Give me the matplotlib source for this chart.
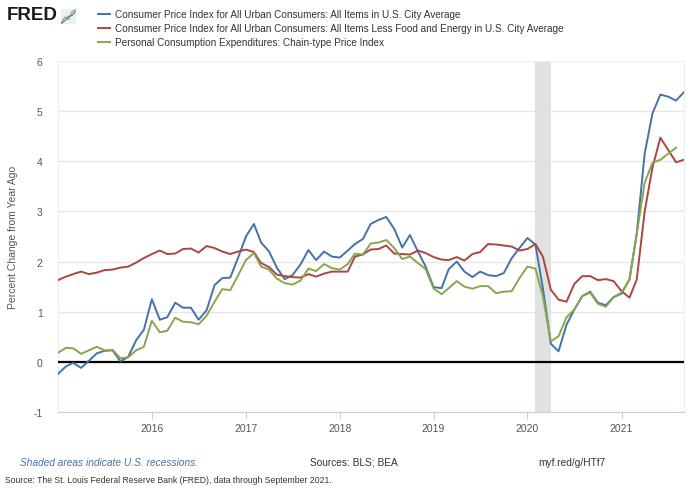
import matplotlib
matplotlib.use("Agg")
import matplotlib.pyplot as plt
import pandas as pd

# monthly year-over-year % change, Jan 2015 onwards
cpi = [-0.24, -0.09, -0.02, -0.12, 0.02, 0.17, 0.22, 0.23, 0.01, 0.10, 0.43, 0.64,
       1.25, 0.84, 0.89, 1.18, 1.08, 1.08, 0.84, 1.03, 1.53, 1.67, 1.68, 2.07,
       2.50, 2.75, 2.38, 2.20, 1.88, 1.65, 1.73, 1.94, 2.23, 2.03, 2.20, 2.10,
       2.08, 2.22, 2.35, 2.45, 2.75, 2.83, 2.89, 2.65, 2.28, 2.53, 2.20, 1.90,
       1.49, 1.47, 1.85, 2.00, 1.80, 1.69, 1.80, 1.73, 1.71, 1.77, 2.07, 2.27,
       2.47, 2.34, 1.47, 0.36, 0.21, 0.74, 1.04, 1.31, 1.40, 1.18, 1.13, 1.29,
       1.36, 1.65, 2.55, 4.15, 4.95, 5.33, 5.29, 5.21, 5.38]
core = [1.63, 1.70, 1.75, 1.80, 1.75, 1.78, 1.83, 1.84, 1.88, 1.90, 1.98, 2.07,
        2.15, 2.22, 2.15, 2.16, 2.25, 2.26, 2.18, 2.31, 2.27, 2.20, 2.15, 2.20,
        2.24, 2.19, 1.97, 1.89, 1.74, 1.71, 1.69, 1.68, 1.75, 1.70, 1.76, 1.80,
        1.80, 1.80, 2.10, 2.14, 2.24, 2.25, 2.32, 2.16, 2.15, 2.14, 2.22, 2.17,
        2.09, 2.04, 2.03, 2.09, 2.02, 2.15, 2.19, 2.35, 2.34, 2.32, 2.30, 2.22,
        2.25, 2.35, 2.10, 1.44, 1.24, 1.20, 1.55, 1.71, 1.71, 1.63, 1.65, 1.61,
        1.41, 1.28, 1.64, 3.00, 3.87, 4.47, 4.23, 3.98, 4.03]
pce = [0.18, 0.28, 0.27, 0.16, 0.23, 0.30, 0.23, 0.24, 0.07, 0.09, 0.23, 0.30,
       0.82, 0.59, 0.62, 0.88, 0.80, 0.79, 0.75, 0.92, 1.20, 1.45, 1.43, 1.72,
       2.03, 2.17, 1.90, 1.84, 1.66, 1.57, 1.54, 1.62, 1.86, 1.81, 1.95, 1.87,
       1.84, 1.95, 2.16, 2.14, 2.36, 2.38, 2.43, 2.27, 2.05, 2.10, 1.97, 1.85,
       1.46, 1.35, 1.47, 1.61, 1.50, 1.46, 1.51, 1.51, 1.37, 1.40, 1.41, 1.67,
       1.90, 1.86, 1.31, 0.41, 0.51, 0.89, 1.04, 1.31, 1.38, 1.16, 1.10, 1.29,
       1.38, 1.64, 2.55, 3.57, 3.97, 4.03, 4.15, 4.27]

names = ["Consumer Price Index for All Urban Consumers: All Items in U.S. City Average",
         "Consumer Price Index for All Urban Consumers: All Items Less Food and Energy in U.S. City Average",
         "Personal Consumption Expenditures: Chain-type Price Index"]
colors = ["#4572a7", "#aa4643", "#89a54e"]
recession = ("2020-02-01", "2020-04-01")
years = [2016, 2017, 2018, 2019, 2020, 2021]
yticks = [-1, 0, 1, 2, 3, 4, 5, 6]

dates_cpi = pd.date_range("2015-01-01", periods=len(cpi), freq="MS")
dates_pce = pd.date_range("2015-01-01", periods=len(pce), freq="MS")

plt.rcParams['font.family'] = ['Liberation Sans', 'DejaVu Sans']

fig = plt.figure(figsize=(7, 4.89), dpi=100)
ax = fig.add_axes([58/700, 1 - 413/489, 626/700, 351/489])

ax.axvspan(pd.Timestamp(recession[0]), pd.Timestamp(recession[1]), color="#e1e1e1", lw=0, zorder=1)
for v in yticks:
    ax.axhline(v, color="#e6e6e6", lw=1, zorder=0)
ax.axhline(0, color="black", lw=1.6, zorder=3)

ax.plot(dates_cpi, cpi, color=colors[0], lw=1.4, zorder=4)
ax.plot(dates_cpi, core, color=colors[1], lw=1.4, zorder=4)
ax.plot(dates_pce, pce, color=colors[2], lw=1.4, zorder=4)

ax.set_xlim(pd.Timestamp("2015-01-01"), pd.Timestamp("2021-09-01"))
ax.set_ylim(-1, 6)
ax.set_yticks(yticks)
ax.set_yticklabels([str(v) for v in yticks])
ax.set_xticks([pd.Timestamp(f"{y}-01-01") for y in years])
ax.set_xticklabels([str(y) for y in years])

for s in ["top", "right"]:
    ax.spines[s].set_color("#f0f0f0")
ax.spines["left"].set_color("#e8eef5")
ax.spines["bottom"].set_color("#c0d0e0")
ax.tick_params(axis="y", length=0, labelsize=7.5, labelcolor="#555555", pad=11)
ax.tick_params(axis="x", length=5, color="#c0d0e0", labelsize=7.5, labelcolor="#555555", pad=3)
ax.set_ylabel("Percent Change from Year Ago", fontsize=7.5, color="#555555")
ax.yaxis.set_label_coords(-40/626, 0.5)

# header
fig.text(7/700, 1 - 16/489, "FRED", fontsize=13.5, fontweight="bold", color="#1a1a1a",
         va="center")
icon = fig.add_axes([61/700, 1 - 25/489, 15/700, 15/489])
icon.plot([0, 1, 2, 3, 4], [0.5, 1.5, 1.0, 2.5, 3.0], color="#89a54e", lw=0.8)
icon.plot([0, 1, 2, 3, 4], [0.2, 0.8, 1.6, 1.8, 2.6], color="#4572a7", lw=0.8)
icon.set_facecolor("#eeeeee")
icon.set_xticks([]); icon.set_yticks([])
for s in icon.spines.values():
    s.set_visible(False)

for i, (n, c) in enumerate(zip(names, colors)):
    y = 1 - (15 + i * 14) / 489
    fig.add_artist(plt.Line2D([98/700, 110/700], [y, y], color=c, lw=1.4))
    fig.text(115/700, y, n, fontsize=7.2, color="#333333", va="center")

# footer
fig.text(20/700, 1 - 463/489, "Shaded areas indicate U.S. recessions.", fontsize=7.3,
         style="italic", color="#4a6fa5", va="center")
fig.text(310/700, 1 - 463/489, "Sources: BLS; BEA", fontsize=7.3, color="#333333", va="center")
fig.text(538/700, 1 - 463/489, "myf.red/g/HTf7", fontsize=7.3, color="#333333", va="center")
fig.text(5/700, 1 - 481/489, "Source: The St. Louis Federal Reserve Bank (FRED), data through September 2021.",
         fontsize=6.2, color="#333333", va="center")

fig.savefig("out.png", dpi=100)
